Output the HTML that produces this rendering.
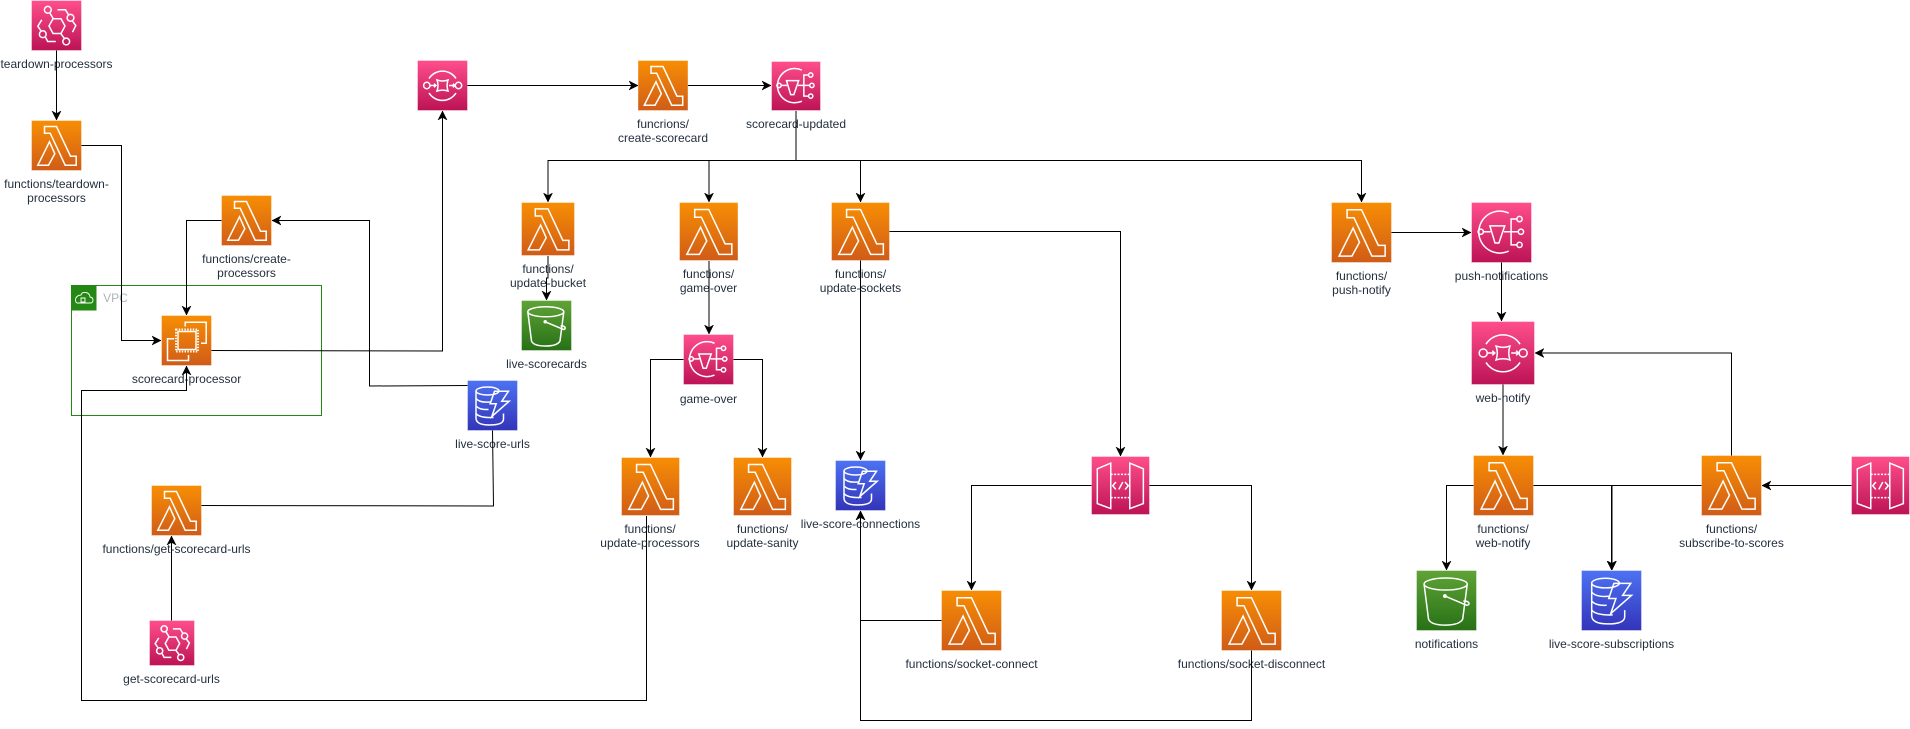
<!DOCTYPE html>
<html><head><meta charset="utf-8"><style>
html,body{margin:0;padding:0;background:#fff;width:1910px;height:729px;overflow:hidden}
svg{display:block}
text{font-family:"Liberation Sans",Arial,sans-serif;font-size:12px;fill:#232F3E;text-anchor:middle}
.e{fill:none;stroke:#000;stroke-width:1}
.a{marker-end:url(#ah)}
.i *{fill:none;stroke:#fff;stroke-width:1.5;vector-effect:non-scaling-stroke}
.bg{stroke:#fff;stroke-opacity:.4;stroke-width:1;vector-effect:non-scaling-stroke}
symbol{overflow:visible}
</style></head><body>
<svg width="1910" height="729" viewBox="0 0 1910 729" xmlns="http://www.w3.org/2000/svg">
<defs>
<linearGradient id="go" x1="0" y1="0" x2="0" y2="1"><stop offset="0" stop-color="#F78E04"/><stop offset="1" stop-color="#D05C17"/></linearGradient>
<linearGradient id="gp" x1="0" y1="0" x2="0" y2="1"><stop offset="0" stop-color="#FF4F8B"/><stop offset="1" stop-color="#BC1356"/></linearGradient>
<linearGradient id="gg" x1="0" y1="0" x2="0" y2="1"><stop offset="0" stop-color="#60A337"/><stop offset="1" stop-color="#277116"/></linearGradient>
<linearGradient id="gb" x1="0" y1="0" x2="0" y2="1"><stop offset="0" stop-color="#4D72F3"/><stop offset="1" stop-color="#3334B9"/></linearGradient>
<marker id="ah" markerUnits="userSpaceOnUse" markerWidth="10" markerHeight="10" viewBox="0 -5 10 10" refX="9" refY="0" orient="auto"><path d="M0-4.5L9 0L0 4.5L2.6 0Z" fill="#000" stroke="#000" stroke-width=".5"/></marker>

<symbol id="lam" viewBox="0 0 50 50" preserveAspectRatio="none"><rect class="bg" width="50" height="50" fill="url(#go)"/><g class="i"><path d="M13 6H25L39 35.7H44.7V44.7H33.7L18.7 12.7H13Z"/><path d="M18 21.3L23.3 33.2L17 44.7H6.3Z"/></g></symbol>
<symbol id="eb" viewBox="0 0 50 50" preserveAspectRatio="none"><rect class="bg" width="50" height="50" fill="url(#gp)"/><g class="i"><path d="M17.5 25.5L21.5 18.3H29.5L33.5 25.5L29.5 33H21.5Z"/><circle cx="16.3" cy="9.3" r="3.4"/><circle cx="39" cy="17.3" r="3.4"/><circle cx="11.3" cy="33.7" r="3.4"/><circle cx="34.7" cy="41" r="3.4"/><path d="M18.2 12.3L21.8 18.3M26 9.3H34L37 14.2M41 20.7L44.3 25L41 31.7M10.3 19.3L6.3 25.7L9.3 30M14 36.7L16.2 41H24.3M29.3 33L33 38.2"/></g></symbol>
<symbol id="sqs" viewBox="0 0 50 50" preserveAspectRatio="none"><rect class="bg" width="50" height="50" fill="url(#gp)"/><g class="i"><path d="M11.5 18A16 16 0 0 1 38.5 18M38.5 32.5A16 16 0 0 1 11.5 32.5"/><circle cx="9.3" cy="25" r="3.2"/><circle cx="41" cy="25" r="3.2"/><path d="M19.5 19.5Q25 21.5 30.5 19.5Q28.7 25 30.5 30.5Q25 28.7 19.5 30.5Q21.5 25 19.5 19.5Z"/><path d="M12.8 25H18.5M16.5 23.2L18.5 25L16.5 26.8M31.5 25H37.4M35.4 23.2L37.4 25L35.4 26.8"/></g></symbol>
<symbol id="sns" viewBox="0 0 50 50" preserveAspectRatio="none"><rect class="bg" width="50" height="50" fill="url(#gp)"/><g class="i"><path d="M31 8.8A17.5 17.5 0 1 0 31 40.5"/><circle cx="7.7" cy="24.4" r="2.2"/><path d="M10 24.4H16"/><path d="M15.3 19.5H27.7L22.8 33.8H19.6Z"/><path d="M27 24.4H38.8M33 24.4V13.8H37.7M33 24.4V35.3H37.7"/><circle cx="40" cy="13.8" r="2.2"/><circle cx="41.2" cy="24.4" r="2.2"/><circle cx="40" cy="35.3" r="2.2"/></g></symbol>
<symbol id="s3" viewBox="0 0 50 50" preserveAspectRatio="none"><rect class="bg" width="50" height="50" fill="url(#gg)"/><g class="i"><ellipse cx="24.3" cy="11.3" rx="18" ry="5"/><path d="M6.3 11.3L10 40.5Q12 45.5 24 45.5Q36 45.5 38.5 40.5L42.3 11.3"/><circle cx="23.7" cy="21.3" r="1" style="fill:#fff"/><path d="M23.7 21.3L42 29Q44.5 28.5 43.5 26.7Q42 25 39 25.5"/></g></symbol>
<symbol id="dyn" viewBox="0 0 50 50" preserveAspectRatio="none"><rect class="bg" width="50" height="50" fill="url(#gb)"/><g class="i"><ellipse cx="20" cy="10.5" rx="11.5" ry="4"/><path d="M8.5 10.5V37.5Q8.5 44.5 22 44.5Q36 44.5 36 38.5V33M8.5 18Q12 22.5 23 21.5M8.5 25.5Q12 29.5 21 29M8.5 33Q12 37.5 26 37M31.5 10.5V11"/><path d="M27 10.7H41L34.3 20.7H41.7L24.3 36L28.7 23.3H22.7Z"/></g></symbol>
<symbol id="ec2" viewBox="0 0 50 50" preserveAspectRatio="none"><rect class="bg" width="50" height="50" fill="url(#go)"/><g class="i"><rect x="16.5" y="16" width="18" height="18"/><rect x="14.5" y="14" width="22" height="22" stroke-dasharray="1.4 1.4" style="stroke-width:2"/><path d="M23.7 11V6.7H44.7V27.7H39.5M12.7 23.3H6V45H27V39.5"/></g></symbol>
<symbol id="api" viewBox="0 0 50 50" preserveAspectRatio="none"><rect class="bg" width="50" height="50" fill="url(#gp)"/><g class="i"><path d="M5 10.6L16.6 5.7V44.9L5 40.6Z"/><path d="M33 5.7L44.7 10.6V40.6L33 44.9Z"/><path d="M16.6 15.4H33M16.6 35.4H33" stroke-dasharray="2 1.4"/><path d="M21 22L18.3 25.2L21 28.4M28.9 22L31.7 25.2L28.9 28.4M27 22L23.5 28.4"/></g></symbol>
</defs>

<!-- VPC -->
<rect x="71.5" y="285.5" width="250" height="130" fill="none" stroke="#248814"/>
<rect x="71.5" y="285.5" width="25" height="25" fill="#248814"/>
<path d="M78 303.5H91Q93.5 303.5 93.5 300.5Q93.5 298 90.5 297.5Q90 293 85.5 293Q82.5 292.5 81.5 295.5Q76.5 296 76 300Q76 303.5 78 303.5Z M81.5 298.5h4v4h-4z" fill="none" stroke="#fff" stroke-width=".9" transform="translate(-.5,-.5)"/>
<text x="115.5" y="302" style="fill:#AAB7B8">VPC</text>

<!-- Nodes -->
<use href="#eb" x="31.5" y="0.5" width="50" height="50"/>
<use href="#lam" x="31.5" y="120.5" width="50" height="50"/>
<use href="#lam" x="221.5" y="195.5" width="50" height="50"/>
<use href="#ec2" x="161.5" y="315.5" width="50" height="50"/>
<use href="#sqs" x="417.5" y="60.5" width="50" height="50"/>
<use href="#lam" x="638" y="60.5" width="50" height="50"/>
<use href="#sns" x="771.5" y="61.5" width="49" height="49"/>
<use href="#lam" x="521.5" y="202.5" width="53" height="53"/>
<use href="#s3" x="521.5" y="300.5" width="50" height="50"/>
<use href="#lam" x="679.5" y="202.5" width="58.5" height="58"/>
<use href="#sns" x="683.5" y="334.5" width="50" height="50"/>
<use href="#lam" x="831.5" y="202.5" width="58" height="58"/>
<use href="#dyn" x="835.5" y="460.5" width="50" height="50"/>
<use href="#api" x="1091.5" y="456.5" width="58" height="58"/>
<use href="#lam" x="941.5" y="590.5" width="60" height="60"/>
<use href="#lam" x="1221.5" y="590.5" width="60" height="60"/>
<use href="#lam" x="621.5" y="457.5" width="58" height="58"/>
<use href="#lam" x="733.5" y="457.5" width="58" height="58"/>
<use href="#dyn" x="467.5" y="380.5" width="50" height="50"/>
<use href="#lam" x="151.5" y="485.5" width="50" height="50"/>
<use href="#eb" x="149.5" y="620.5" width="45" height="45"/>
<use href="#lam" x="1331.5" y="202.5" width="60" height="60"/>
<use href="#sns" x="1471.5" y="202.5" width="60" height="60"/>
<use href="#sqs" x="1471.5" y="321.5" width="63" height="63"/>
<use href="#lam" x="1473.5" y="455.5" width="60" height="60"/>
<use href="#lam" x="1701.5" y="455.5" width="60" height="60"/>
<use href="#api" x="1851.5" y="456.5" width="58" height="58"/>
<use href="#s3" x="1416.5" y="570.5" width="60" height="60"/>
<use href="#dyn" x="1581.5" y="570.5" width="60" height="60"/>

<!-- Labels -->
<text x="56.5" y="68">teardown-processors</text>
<text x="56.5" y="188">functions/teardown-</text><text x="56.5" y="202">processors</text>
<text x="246.5" y="263">functions/create-</text><text x="246.5" y="277">processors</text>
<text x="186.5" y="383">scorecard-processor</text>
<text x="492.5" y="448">live-score-urls</text>
<text x="176.5" y="553">functions/get-scorecard-urls</text>
<text x="171.5" y="683">get-scorecard-urls</text>
<text x="663" y="128">funcrions/</text><text x="663" y="142">create-scorecard</text>
<text x="796" y="128">scorecard-updated</text>
<text x="548" y="273">functions/</text><text x="548" y="287">update-bucket</text>
<text x="546.5" y="368">live-scorecards</text>
<text x="708.5" y="278">functions/</text><text x="708.5" y="292">game-over</text>
<text x="708.5" y="403">game-over</text>
<text x="860.5" y="278">functions/</text><text x="860.5" y="292">update-sockets</text>
<text x="860.5" y="528">live-score-connections</text>
<text x="650" y="533">functions/</text><text x="650" y="547">update-processors</text>
<text x="762.5" y="533">functions/</text><text x="762.5" y="547">update-sanity</text>
<text x="971.5" y="668">functions/socket-connect</text>
<text x="1251.5" y="668">functions/socket-disconnect</text>
<text x="1361.5" y="280">functions/</text><text x="1361.5" y="294">push-notify</text>
<text x="1501.5" y="280">push-notifications</text>
<text x="1503" y="402">web-notify</text>
<text x="1503" y="533">functions/</text><text x="1503" y="547">web-notify</text>
<text x="1731.5" y="533">functions/</text><text x="1731.5" y="547">subscribe-to-scores</text>
<text x="1446.5" y="648">notifications</text>
<text x="1611.5" y="648">live-score-subscriptions</text>

<!-- Edges -->
<g>
<path class="e a" d="M56.5 50.5V120"/>
<path class="e a" d="M81.5 145.5H121.5V340.5H161"/>
<path class="e a" d="M221.5 220.5H186.5V315"/>
<path class="e a" d="M467.5 385.5L369.5 386V220.5H272"/>
<path class="e a" d="M211.5 350.5L442.5 351V111"/>
<path class="e" d="M492.5 430.5L493.5 506L201.5 505.5"/>
<path class="e a" d="M646.5 516V700.5H81.5V390.5H186.5V366"/>
<path class="e a" d="M171.5 620.5V536"/>
<path class="e a" d="M467.5 85.5H638"/>
<path class="e a" d="M688 85.5H771"/>
<path class="e" d="M796 111V160.5"/>
<path class="e a" d="M796 160.5H1361.5V202"/>
<path class="e a" d="M796 160.5H548V202"/>
<path class="e a" d="M709 160.5V202"/>
<path class="e a" d="M860.5 160.5V202"/>
<path class="e a" d="M548 256V278H546.5V300"/>
<path class="e a" d="M709 261V334"/>
<path class="e a" d="M683.5 359.5H650.5V457"/>
<path class="e a" d="M733.5 359.5H762.5V457"/>
<path class="e a" d="M860.5 260.5V460"/>
<path class="e a" d="M889.5 231.5H1120.5V456"/>
<path class="e a" d="M1091.5 485.5H971.5V590"/>
<path class="e a" d="M1149.5 485.5H1251.5V590"/>
<path class="e a" d="M941.5 620.5H860.5V511"/>
<path class="e a" d="M1251.5 650.5V720.5H860.5V511"/>
<path class="e a" d="M1391.5 232.5H1471"/>
<path class="e a" d="M1501.5 262.5V321"/>
<path class="e a" d="M1503 384.5V455"/>
<path class="e a" d="M1533.5 485.5H1611.5V570"/>
<path class="e a" d="M1701.5 485.5H1612V570"/>
<path class="e a" d="M1731.5 455.5V353H1535"/>
<path class="e a" d="M1851.5 485.5H1762"/>
<path class="e a" d="M1473.5 485.5H1446.5V570"/>
</g>
</svg>
</body></html>
